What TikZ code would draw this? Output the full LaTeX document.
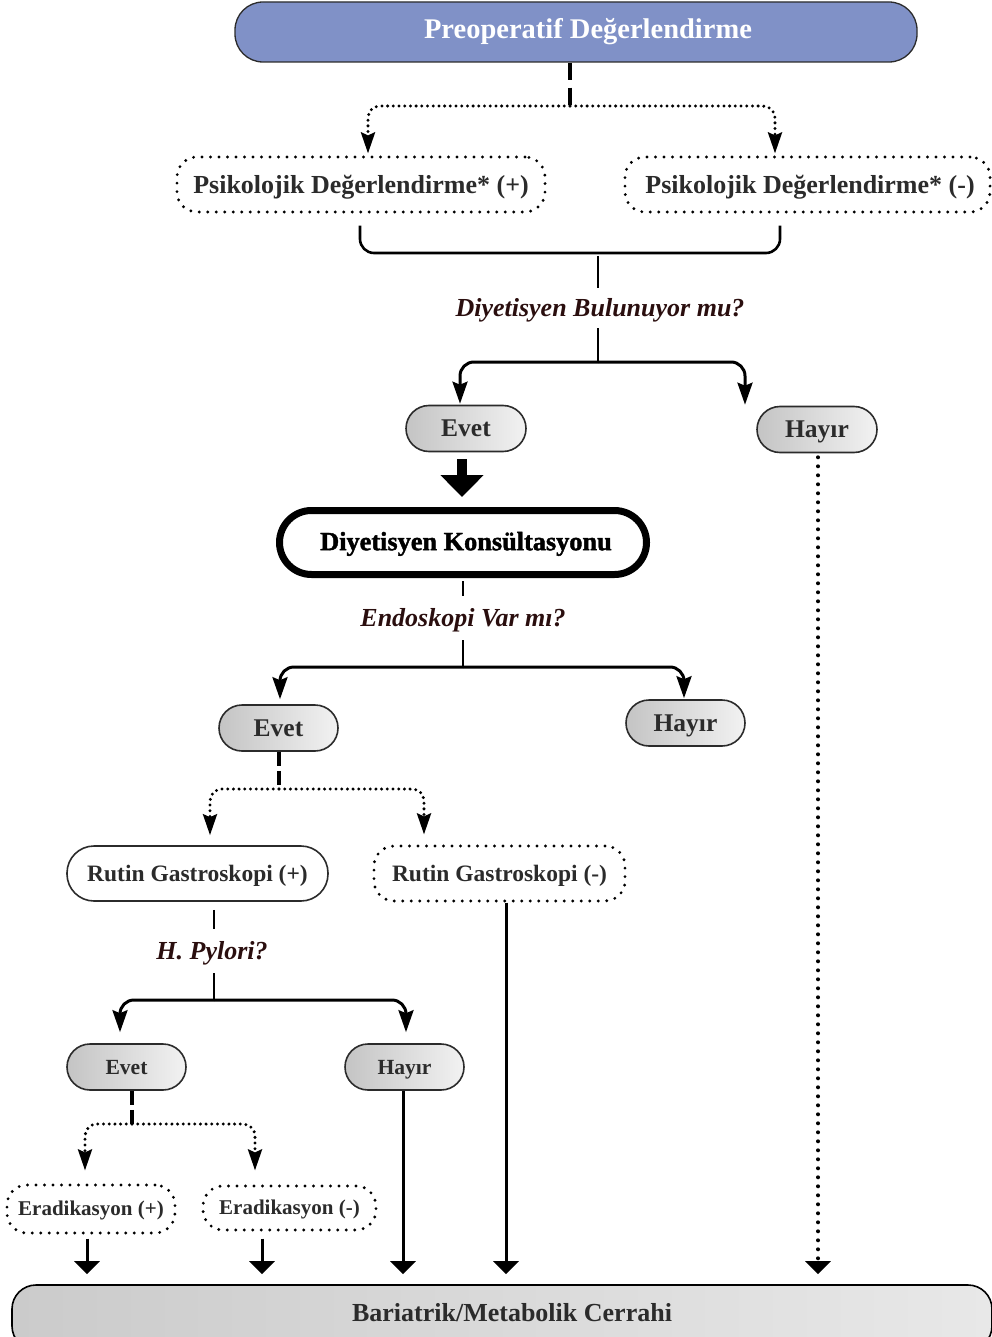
\documentclass[tikz,border=0pt]{standalone}
\usepackage{fontspec}
\setmainfont{Liberation Serif}
\newfontfamily\heavy{Liberation Serif}[BoldFeatures={FakeBold=1.6}]
\usetikzlibrary{arrows.meta,calc}
\definecolor{tcol}{HTML}{2B2B2B}
\definecolor{qcol}{HTML}{2A0E0E}
\definecolor{topfill}{HTML}{8091C7}
\definecolor{gL}{HTML}{C4C4C4}
\definecolor{gR}{HTML}{F2F2F2}
\definecolor{bL}{HTML}{CBCBCB}
\definecolor{bR}{HTML}{E8E8E8}
\tikzset{
  fs/.style n args={2}{font=\bfseries\fontsize{#1}{#1}\selectfont,
    text height={0.66*#1pt}, text depth={-2*#2pt}},
  pill/.style={draw=tcol, line width=1.6pt, rounded corners=23pt, inner sep=0pt,
    minimum height=46pt, minimum width=119pt, left color=gL, right color=gR, text=tcol},
  dotbox/.style={draw=black, line width=3.2pt, dash pattern=on 0pt off 8.5pt, line cap=round,
    rounded corners=20pt, inner sep=0pt, text=tcol},
  solidbox/.style={draw=tcol, line width=1.6pt, rounded corners=27pt, inner sep=0pt, fill=white, text=tcol},
  qlabel/.style={inner sep=0pt, text=qcol, font=\bfseries\itshape\fontsize{26}{26}\selectfont,
    text height=17.2pt, text depth=0pt},
  line3/.style={draw=black, line width=2.6pt},
  forkarrow/.style={draw=black, line width=3pt, rounded corners=14pt,
    -{Stealth[length=22pt,width=15pt,inset=3pt]}},
  dotarrow/.style={draw=black, line width=3.3pt, dash pattern=on 0pt off 5.7pt, line cap=round,
    rounded corners=12pt, -{Stealth[length=21pt,width=14pt,inset=3pt,line cap=butt]}},
  thickdash/.style={draw=black, line width=4.5pt, dash pattern=on 17pt off 8pt},
  dashtwo/.style={draw=black, line width=3.5pt, dash pattern=on 14pt off 5pt},
  botarrow/.style={draw=black, line width=3pt, shorten >=10pt, -{Triangle[width=25pt,length=13pt]}},
  dotvert/.style={draw=black, line width=4pt, dash pattern=on 0pt off 9pt, line cap=round,
    shorten >=10pt, -{Triangle[width=25pt,length=13pt,line cap=butt]}},
  bigarrow/.style={draw=black, line width=10pt, -{Triangle[width=42pt,length=22pt]}}
}
\begin{document}
\begin{tikzpicture}[x=1pt,y=-1pt]
\useasboundingbox (0,0) rectangle (992,1337);

% top
\node[draw=tcol, line width=1.3pt, fill=topfill, rounded corners=28pt, minimum width=682pt,
  minimum height=60pt, inner sep=0pt] (top) at (576,32) {};
\node[inner sep=0pt, text=white, fs={28.5}{0}] (toplbl) at (588,29) {Preoperatif Değerlendirme};

% psikolojik
\node[dotbox, fs={26}{1.2}, minimum width=368pt, minimum height=55pt] (psiL) at (361,184.5) {Psikolojik Değerlendirme* (+)};
\node[dotbox, fs={26}{1.2}, minimum width=365pt, minimum height=55pt] (psiR) at (807.5,184.5) {\hspace*{5pt}Psikolojik Değerlendirme* (-)};

\coordinate (j1) at (570,106);
\draw[thickdash] (top.south -| j1) -- (j1);
\draw[dotarrow] (j1) -| ($(psiL.north)+(7,-2)$);
\draw[dotarrow] (j1) -| ($(psiR.north)+(-32.5,-2)$);

% bracket
\coordinate (b1) at ($(psiL.south)+(-1,12)$);
\coordinate (b2) at ($(psiR.south)+(-27.5,12)$);
\coordinate (bm) at (598,253);
\draw[line3, rounded corners=14pt] (b1) |- (bm) -| (b2);

\node[qlabel, minimum height=40pt] (q1) at (598,308) {\hspace*{4pt}Diyetisyen Bulunuyor mu?};
\draw[line3, shorten <=3pt] (bm) -- (q1.north);
\coordinate (f1) at (598,362);
\draw[line3] (q1.south) -- (f1);

% evet / hayir 1
\node[pill, fs={25.5}{3}, minimum width=120pt, minimum height=46pt] (Evet1) at (466,428.5) {Evet};
\node[pill, fs={25.5}{2}, minimum width=120pt, minimum height=46pt] (Hayir1) at (817,429.5) {Hayır};
\draw[forkarrow] (f1) -| ($(Evet1.north)+(-6,-1)$);
\draw[forkarrow] (f1) -| ($(Hayir1.north)+(-72,-1)$);

% konsultasyon
\node[draw=black, line width=7pt, rounded corners=32pt, minimum width=367pt, minimum height=64pt,
  inner sep=0pt, text=black, font=\heavy\bfseries\fontsize{26.3}{26}\selectfont,
  text height=17.4pt, text depth=2pt] (konsul) at (463,542.5) {\hspace*{6pt}Diyetisyen Konsültasyonu};
\draw[bigarrow] ($(Evet1.south)+(-4,7)$) -- ($(konsul.north)+(-1,-10)$);

\node[qlabel, minimum height=44pt] (q2) at (463,618) {Endoskopi Var mı?};
\draw[line3, shorten <=3pt] (konsul.south) -- (q2.north);
\coordinate (f2) at (463,667);
\draw[line3] (q2.south) -- (f2);

\node[pill, fs={25.5}{2.5}] (Evet2) at (278.5,728) {Evet};
\node[pill, fs={25.5}{2}] (Hayir2) at (685.5,723) {Hayır};
\draw[forkarrow] (f2) -| ($(Evet2.north)+(1.5,-5)$);
\draw[forkarrow] (f2) -| ($(Hayir2.north)+(-1.5,-1)$);

% rutin gastroskopi
\node[solidbox, fs={23.5}{1.5}, minimum width=261pt, minimum height=55pt] (rutP) at (197.5,873.5) {Rutin Gastroskopi (+)};
\node[dotbox, fs={23.5}{1.5}, minimum width=251pt, minimum height=55pt] (rutM) at (499.5,873.5) {Rutin Gastroskopi (-)};
\coordinate (j2) at (279,789);
\draw[dashtwo] (Evet2.south -| j2) -- (j2);
\draw[dotarrow] (j2) -| ($(rutP.north)+(12.5,-10)$);
\draw[dotarrow] (j2) -| ($(rutM.north)+(-75.5,-10)$);

\node[qlabel, minimum height=44pt] (q3) at (214,951) {H. Pylori?\hspace*{4pt}};
\draw[line3, shorten <=8pt] (rutP.south -| q3.north) -- (q3.north);
\coordinate (f3) at (214,1000);
\draw[line3] (q3.south) -- (f3);

\node[pill, fs={21.6}{1.5}] (Evet3) at (126.5,1067) {Evet};
\node[pill, fs={21.6}{1.5}] (Hayir3) at (404.5,1067) {Hayır};
\draw[forkarrow] (f3) -| ($(Evet3.north)+(-6.5,-11)$);
\draw[forkarrow] (f3) -| ($(Hayir3.north)+(1.5,-11)$);

% eradikasyon
\node[dotbox, fs={21}{0}, minimum width=168pt, minimum height=48pt] (eradP) at (91,1209) {Eradikasyon (+)};
\node[dotbox, fs={21}{0}, minimum width=173pt, minimum height=44pt] (eradM) at (289.5,1208) {Eradikasyon (-)};
\coordinate (j3) at (132,1124);
\draw[dashtwo] (Evet3.south -| j3) -- (j3);
\draw[dotarrow] (j3) -| ($(eradP.north)+(-6,-13)$);
\draw[dotarrow] (j3) -| ($(eradM.north)+(-34.5,-14)$);

% bottom
\node[draw=black, line width=1.6pt, rounded corners=24pt, left color=bL, right color=bR,
  minimum width=980pt, minimum height=65pt, inner sep=0pt] (bot) at (502,1317.5) {};
\node[inner sep=0pt, text=tcol, fs={26}{0}] (botlbl) at (512,1313) {Bariatrik/Metabolik Cerrahi};

\coordinate (e1) at ($(eradP.south)+(-4,4)$);
\draw[botarrow] (e1) -- (e1 |- bot.north);
\coordinate (e2) at ($(eradM.south)+(-27.5,7)$);
\draw[botarrow] (e2) -- (e2 |- bot.north);
\coordinate (e5) at ($(Hayir3.south)+(-1.5,0)$);
\draw[botarrow] (e5) -- (e5 |- bot.north);
\coordinate (e3) at ($(rutM.south)+(6.5,0)$);
\draw[botarrow] (e3) -- (e3 |- bot.north);
\coordinate (e4) at ($(Hayir1.south)+(1,4)$);
\draw[dotvert] (e4) -- (e4 |- bot.north);
\end{tikzpicture}
\end{document}
